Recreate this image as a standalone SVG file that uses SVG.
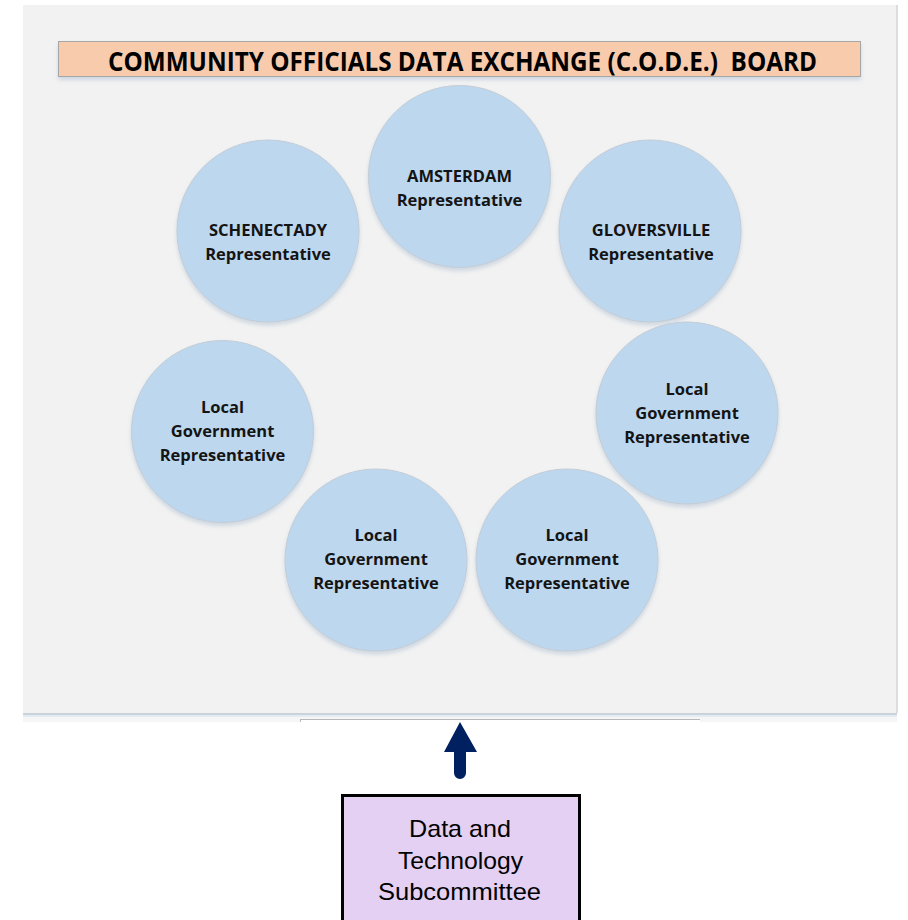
<svg xmlns="http://www.w3.org/2000/svg" width="908" height="920" viewBox="0 0 908 920">
<style>
.circ{fill:#bdd7ee;stroke:#c3ccd6;stroke-width:1;filter:url(#sh)}
.ct{font-family:"Open Sans","Liberation Sans",sans-serif;font-weight:bold;font-size:16.5px;fill:#141414;text-anchor:middle}
.bt{font-family:"Liberation Sans",Arial,sans-serif;font-size:24px;fill:#000;text-anchor:middle}
</style>
<defs>
<filter id="sh" x="-20%" y="-20%" width="140%" height="150%">
<feGaussianBlur in="SourceAlpha" stdDeviation="2"/>
<feOffset dy="3" result="b"/>
<feFlood flood-color="#8aa4c0" flood-opacity="0.35"/>
<feComposite in2="b" operator="in"/>
<feMerge><feMergeNode/><feMergeNode in="SourceGraphic"/></feMerge>
</filter>
</defs>
<rect width="908" height="920" fill="#fff"/>
<g id="board">
<rect x="23" y="5" width="874" height="708" fill="#f2f2f2"/>
<line x1="897" y1="5" x2="897" y2="713" stroke="#d4d4d4" stroke-width="1.5"/>
<rect x="23" y="713" width="874" height="2" fill="#c9d3dc"/>
<rect x="23" y="715" width="874" height="2" fill="#e3ebf3"/>
<rect x="23" y="717" width="874" height="5" fill="#f6f6f6"/>
<rect x="300" y="719" width="400" height="3" fill="#fff"/>
<line x1="300" y1="719.5" x2="700" y2="719.5" stroke="#b8b8b8" stroke-width="1"/>
<line x1="300.5" y1="719" x2="300.5" y2="722" stroke="#b8b8b8" stroke-width="1"/>
</g>
<g id="title">
<rect x="58.5" y="41.5" width="802" height="35" fill="#f8cbad" stroke="#a6a6a6" stroke-width="1" filter="url(#sh)"/>
<text x="462.5" y="71" font-family="Open Sans,Liberation Sans,sans-serif" font-weight="bold" font-size="26" text-anchor="middle" fill="#000" textLength="709" lengthAdjust="spacingAndGlyphs" xml:space="preserve">COMMUNITY OFFICIALS DATA EXCHANGE (C.O.D.E.)  BOARD</text>
</g>
<g id="amsterdam">
<circle class="circ" cx="459.5" cy="176.5" r="91"/>
<text class="ct" x="459.5" y="182">AMSTERDAM</text>
<text class="ct" x="459.5" y="206">Representative</text>
</g>
<g id="schenectady">
<circle class="circ" cx="268" cy="231" r="91"/>
<text class="ct" x="268" y="236">SCHENECTADY</text>
<text class="ct" x="268" y="260">Representative</text>
</g>
<g id="gloversville">
<circle class="circ" cx="650" cy="231" r="91"/>
<text class="ct" x="651" y="236">GLOVERSVILLE</text>
<text class="ct" x="651" y="260">Representative</text>
</g>
<g id="local-right">
<circle class="circ" cx="687" cy="413" r="91"/>
<text class="ct" x="687" y="395">Local</text>
<text class="ct" x="687" y="419">Government</text>
<text class="ct" x="687" y="443">Representative</text>
</g>
<g id="local-left">
<circle class="circ" cx="222.5" cy="431.5" r="91"/>
<text class="ct" x="222.5" y="413">Local</text>
<text class="ct" x="222.5" y="437">Government</text>
<text class="ct" x="222.5" y="461">Representative</text>
</g>
<g id="local-bottom-left">
<circle class="circ" cx="376" cy="560" r="91"/>
<text class="ct" x="376" y="541">Local</text>
<text class="ct" x="376" y="565">Government</text>
<text class="ct" x="376" y="589">Representative</text>
</g>
<g id="local-bottom-right">
<circle class="circ" cx="567" cy="560" r="91"/>
<text class="ct" x="567" y="541">Local</text>
<text class="ct" x="567" y="565">Government</text>
<text class="ct" x="567" y="589">Representative</text>
</g>
<g id="connectors">
<path d="M460 722 L477 752 L466 752 L466 773 A6 6 0 0 1 454 773 L454 752 L444 752 Z" fill="#002060"/>
</g>
<g id="subcommittee">
<rect x="342.5" y="795.5" width="237" height="140" fill="#e3d0f3" stroke="#000" stroke-width="3"/>
<text class="bt" x="460" y="837" textLength="102" lengthAdjust="spacingAndGlyphs">Data and</text>
<text class="bt" x="460.5" y="868.5" textLength="125" lengthAdjust="spacingAndGlyphs">Technology</text>
<text class="bt" x="459.5" y="900" textLength="163" lengthAdjust="spacingAndGlyphs">Subcommittee</text>
</g>
</svg>
